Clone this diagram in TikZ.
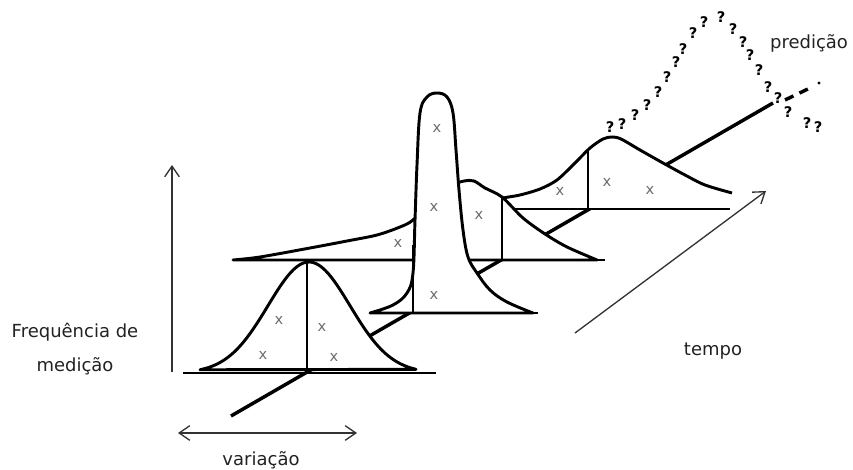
\documentclass[tikz,border=0pt]{standalone}
\usepackage{fontspec}
\setmainfont{DejaVu Sans}
\usetikzlibrary{arrows.meta}
\definecolor{ink}{HTML}{222222}
\definecolor{axisgray}{HTML}{333333}
\definecolor{markgray}{HTML}{6E6E66}
\tikzset{dist/.style={line width=2.2pt,draw=black,line join=round},timeline/.style={line width=2.6pt,draw=black},axisarrow/.style={draw=axisgray,line width=1pt,-{Straight Barb[length=8pt,width=11pt]}},xmark/.style={text=markgray,font=\fontsize{11}{11}\selectfont,inner sep=0pt},qmark/.style={font=\bfseries\fontsize{11}{11}\selectfont,inner sep=0pt},lab/.style={text=ink,font=\fontsize{13.5}{26}\selectfont,align=center,inner sep=0pt}}

\begin{document}
\begin{tikzpicture}[x=0.75pt,y=-0.75pt]
\useasboundingbox (0,0) rectangle (853,470);
% time axis first, the curves cover it
\coordinate (t0) at (231,416); \coordinate (t1) at (773,103);
\draw[timeline] (t0)--(t1);
\draw[timeline,dash pattern=on 7pt off 5pt] (785,100)--(810,88);
\fill (819,83) circle (1.3pt);
% last curve (right)
\fill[white] plot[smooth] coordinates {(470,205) (503,198) (520,195) (540,189) (557,180) (575,163) (590,148) (603,139) (612,137) (621,139) (640,150) (663,163) (685,175) (705,185) (732,193)} |- (470,209) -- cycle;
\draw[dist] plot[smooth] coordinates {(470,205) (503,198) (520,195) (540,189) (557,180) (575,163) (590,148) (603,139) (612,137) (621,139) (640,150) (663,163) (685,175) (705,185) (732,193)};
\draw[dist] (470,209)--(730,209);
\draw[dist] (588,149)--(588,209);
% skewed curve
\draw[dist,fill=white] plot[smooth] coordinates {(233,260) (260,257) (310,248) (347,241) (377,235) (400,227) (413,220) (432,200) (450,186) (464,181) (474,181) (485,188) (502,197) (523,218) (545,234) (567,247) (597,260)} -- cycle;
\draw[dist] (233,260)--(605,260);
\draw[dist] (502,197)--(502,260);
% tall narrow curve
\draw[dist,fill=white] plot[smooth,tension=0.6] coordinates {(370,313) (393,305) (407,293) (413,273) (415,220) (417,165) (420,113) (427,97) (437,93) (447,97) (453,113) (456,150) (459,190) (463,230) (468,257) (477,273) (490,290) (507,302) (533,313)} -- cycle;
\draw[dist] (370,313)--(538,313);
\draw[dist] (413,245)--(413,313);
% first curve (front)
\draw[dist,fill=white] plot[domain=200:416,samples=70] (\x,{373-111*exp(-((\x-309)/41)*((\x-309)/41)/2)}) -- cycle;
\draw[dist] (183,373)--(436,373);
\draw[dist] (307,262)--(307,373);
% measurements
\foreach \x/\y [count=\i] in {279/320,263/355,322/327,334/357,437/128,434/207,434/295,398/243,479/215,560/191,607/182,650/190}
  \node[xmark] (m\i) at (\x,\y) {x};
% prediction
\foreach \x/\y [count=\i] in {610/127,622/124,635/115,647/105,658/92,667/77,676/62,683/49,693/33,704/22,721/17,733/29,743/42,750/55,759/70,768/87,778/98,788/112,807/123,818/127}
  \node[qmark] (q\i) at (\x,\y) {?};
% axes and labels
\coordinate (fbot) at (172,372); \coordinate (ftop) at (172,165);
\draw[axisarrow] (fbot)--(ftop);
\coordinate (vl) at (178,433); \coordinate (vr) at (357,433);
\draw[axisarrow,{Straight Barb[length=8pt,width=11pt]}-{Straight Barb[length=8pt,width=11pt]}] (vl)--(vr);
\coordinate (ts) at (575,333); \coordinate (te) at (766,191);
\draw[axisarrow] (ts)--(te);
\node[lab] (freq) at (75,349) {Frequência de\\medição};
\node[lab,anchor=base] (var) at (261,465) {variação};
\node[lab,anchor=base] (tempo) at (713,355) {tempo};
\node[lab,anchor=base] (pred) at (809,49) {predição};
\end{tikzpicture}
\end{document}
